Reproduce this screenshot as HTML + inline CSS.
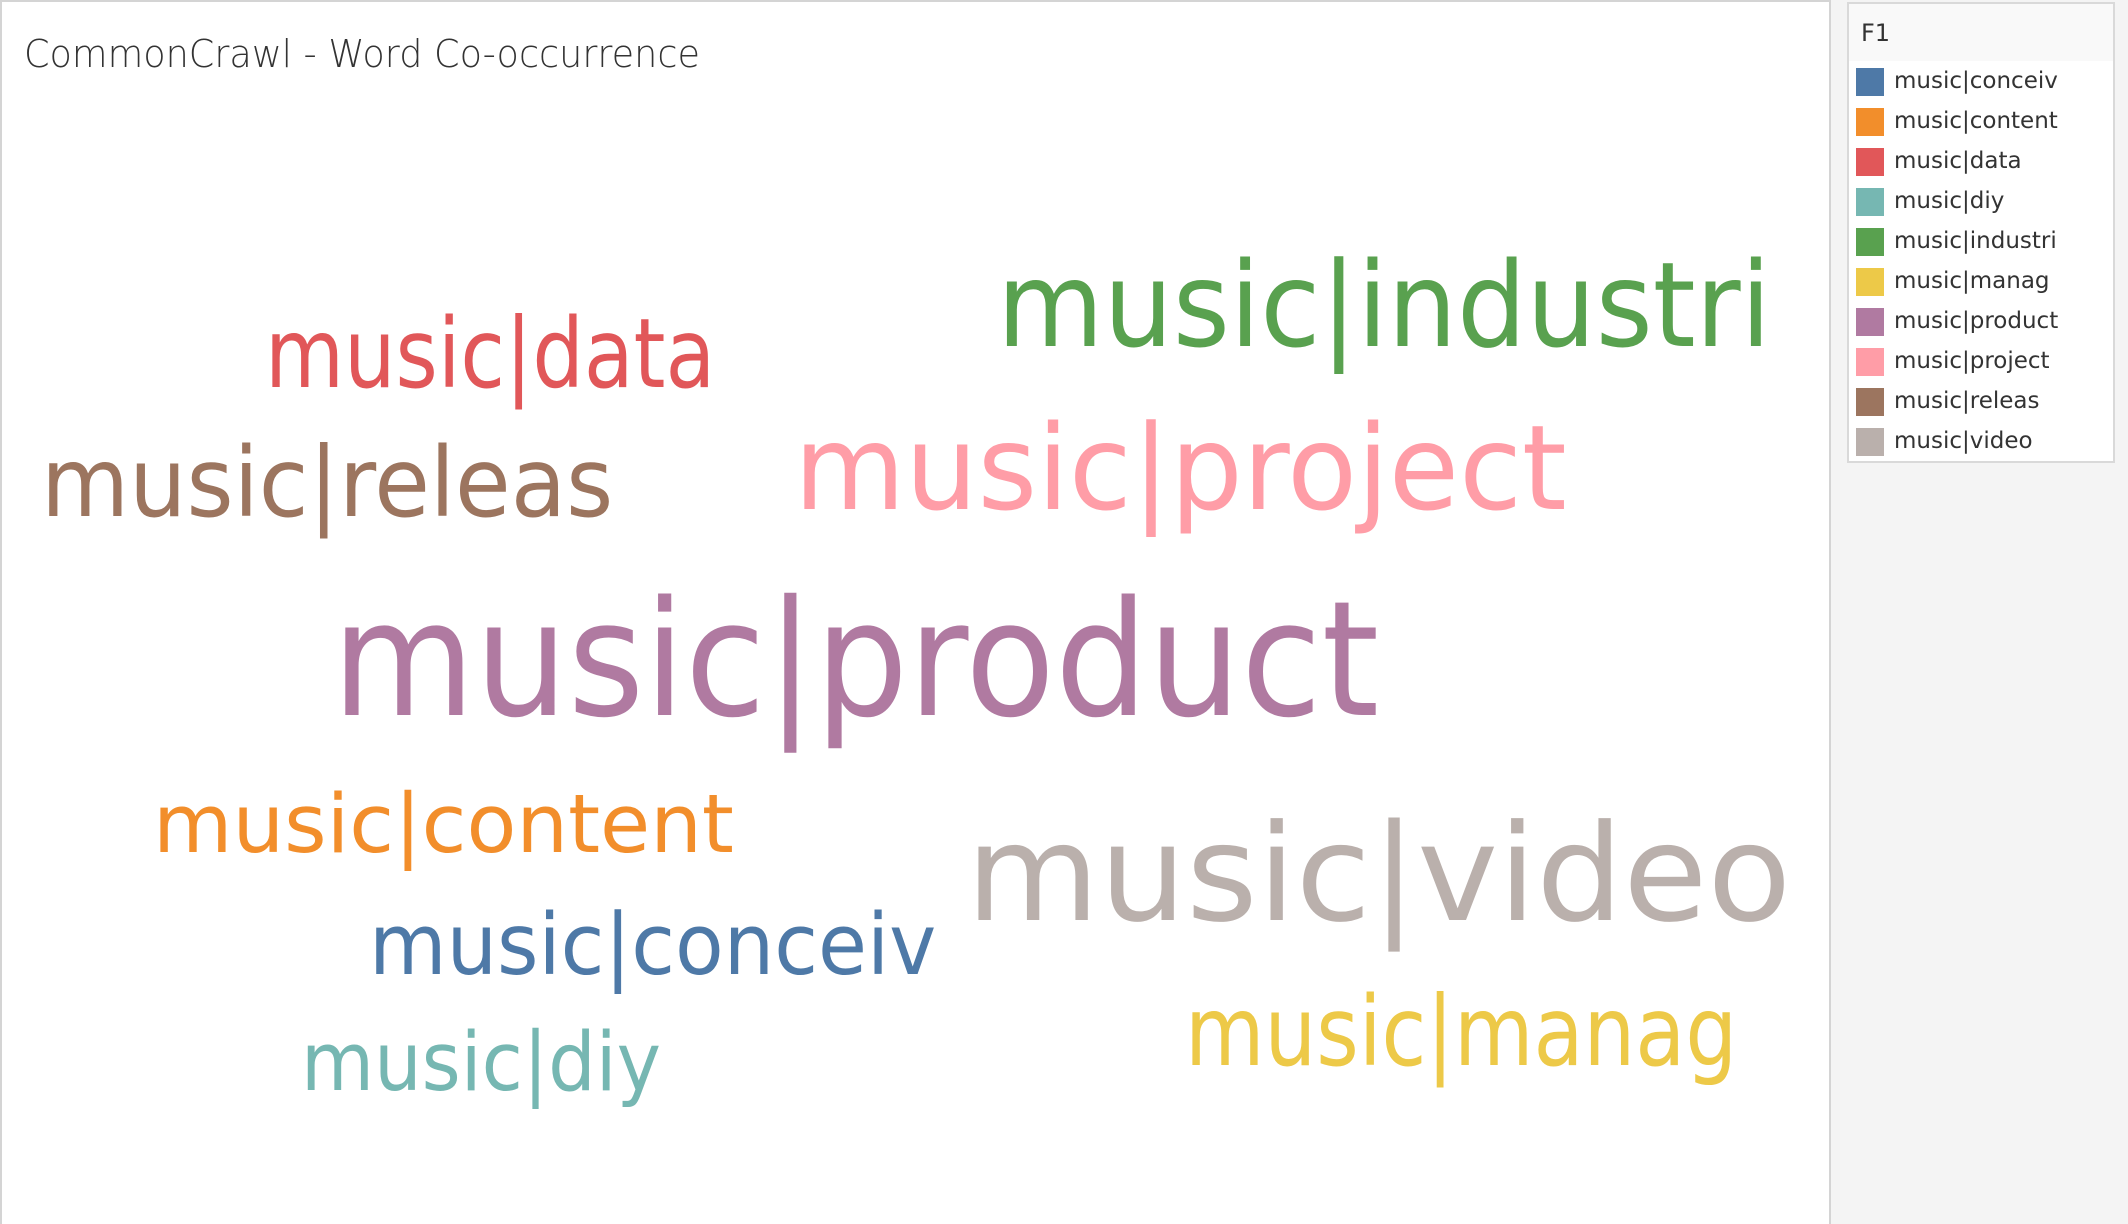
<!DOCTYPE html>
<html><head><meta charset="utf-8"><style>
body{margin:0;width:2128px;height:1224px;overflow:hidden;background:#f4f4f4;font-family:"DejaVu Sans","Liberation Sans",sans-serif;}
#main{position:absolute;left:0;top:0;width:1831px;height:1224px;background:#fff;border-left:2px solid #d4d4d4;border-top:2px solid #d4d4d4;border-right:2px solid #d4d4d4;box-sizing:border-box;}
#legend{position:absolute;left:1847px;top:2px;width:268px;height:461px;background:#fff;border:2px solid #d9d9d9;box-sizing:border-box;}
#lh{height:57px;background:#f9f9f9;font-size:24px;color:#333;padding-left:12px;line-height:58px;}
.row{position:absolute;left:7px;height:28px;font-size:23px;color:#333;white-space:nowrap;}
.sw{position:absolute;left:0;top:0;width:28px;height:28px;}
.lt{position:absolute;left:38px;top:-2px;line-height:30px;}
</style></head><body>
<div id="main">
<svg id="cloud" width="1831" height="1224" style="position:absolute;left:-2px;top:-2px">
<text x="24" y="67" font-size="38" fill="#333" textLength="676" lengthAdjust="spacingAndGlyphs" font-family="DejaVu Sans, sans-serif" font-weight="200">CommonCrawl - Word Co-occurrence</text>
</svg>
</div>
<div id="legend">
<div id="lh">F1</div>
</div>
<script>
const words=["music|conceiv","music|content","music|data","music|diy","music|industri","music|manag","music|product","music|project","music|releas","music|video"];
const values=[99,94,112,94,137,112,186,137,112,156];
const colors=["#4e79a7","#f28e2b","#e15759","#76b7b2","#59a14f","#edc948","#b07aa1","#ff9da7","#9c755f","#bab0ac"];
// layout (left x, baseline y) of each word in the cloud
const layoutX=[369,153,265,301,997,1185,332,794,41,966];
const layoutY=[974,852,387,1090,346,1065,715,509,516,920];
const widthPerSize=[5.73,6.18,4.02,3.83,5.65,4.93,5.63,5.64,5.11,5.29];
const svg=document.getElementById('cloud');
const NS="http://www.w3.org/2000/svg";
const K=0.86;
function sizeScale(v){return v*K;}
words.forEach((w,i)=>{
  const t=document.createElementNS(NS,'text');
  const fs=sizeScale(values[i]);
  t.setAttribute('x',layoutX[i]);
  t.setAttribute('y',layoutY[i]);
  t.setAttribute('font-size',fs);
  t.setAttribute('fill',colors[i]);
  t.setAttribute('textLength',fs*widthPerSize[i]/K);
  t.setAttribute('lengthAdjust','spacingAndGlyphs');
  t.setAttribute('font-family','DejaVu Sans, sans-serif');
  t.textContent=w;
  
  
  svg.appendChild(t);
});
const lg=document.getElementById('legend');
words.forEach((w,i)=>{
  const r=document.createElement('div');
  r.className='row';
  r.style.top=(64+i*40)+'px';
  r.innerHTML='<div class="sw" style="background:'+colors[i]+'"></div><div class="lt">'+w+'</div>';
  
  
  lg.appendChild(r);
});
</script>
</body></html>
